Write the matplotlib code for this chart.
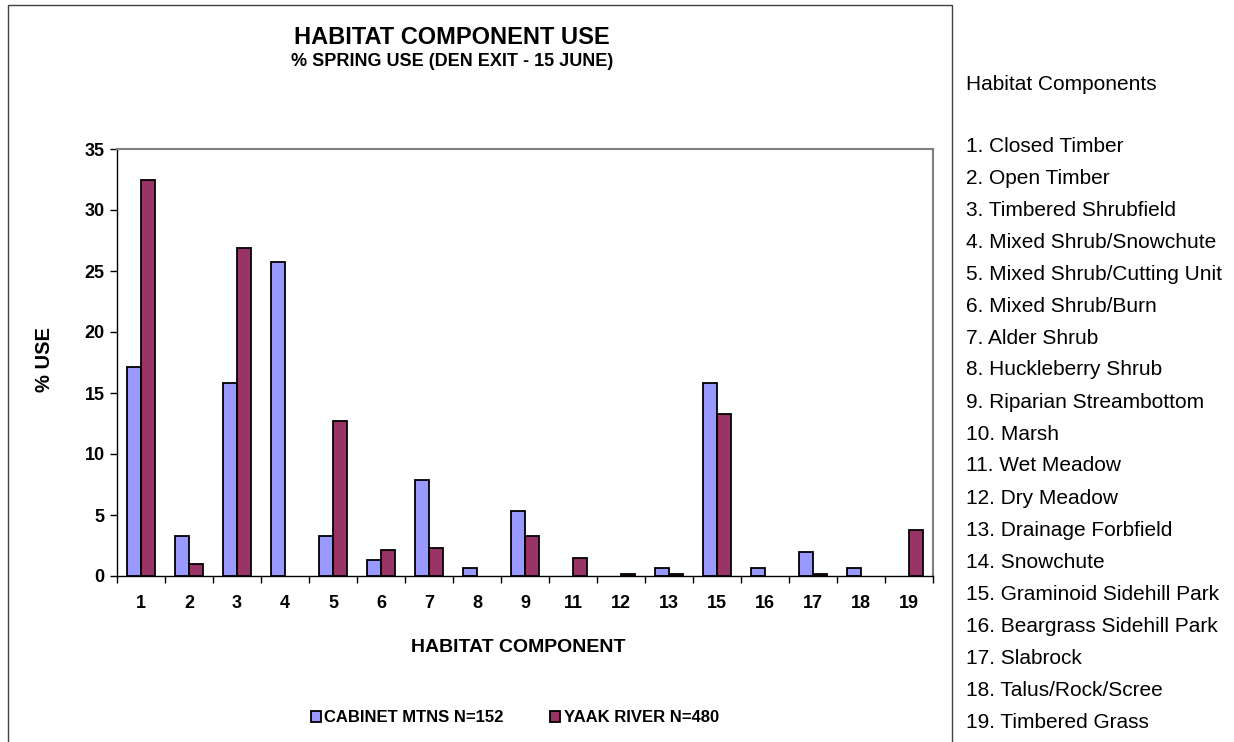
import numpy as np
import matplotlib
matplotlib.use('Agg')
from matplotlib import pyplot as plt
from matplotlib.patches import Rectangle, Patch

plt.rcParams['font.family'] = ['Liberation Sans', 'DejaVu Sans']

categories = ['1', '2', '3', '4', '5', '6', '7', '8', '9', '11', '12', '13', '15', '16', '17', '18', '19']
cabinet = [17.1, 3.3, 15.8, 25.7, 3.3, 1.3, 7.9, 0.66, 5.3, 0, 0, 0.66, 15.8, 0.66, 1.97, 0.66, 0]
yaak = [32.5, 1.0, 26.9, 0, 12.7, 2.1, 2.3, 0, 3.3, 1.45, 0.2, 0.2, 13.3, 0, 0.2, 0, 3.75]
series_names = ['CABINET MTNS N=152', 'YAAK RIVER N=480']
component_names = ['Closed Timber', 'Open Timber', 'Timbered Shrubfield', 'Mixed Shrub/Snowchute',
                   'Mixed Shrub/Cutting Unit', 'Mixed Shrub/Burn', 'Alder Shrub', 'Huckleberry Shrub',
                   'Riparian Streambottom', 'Marsh', 'Wet Meadow', 'Dry Meadow', 'Drainage Forbfield',
                   'Snowchute', 'Graminoid Sidehill Park', 'Beargrass Sidehill Park', 'Slabrock',
                   'Talus/Rock/Scree', 'Timbered Grass']

W, H = 1234, 742
fig = plt.figure(figsize=(W / 100, H / 100), dpi=100)

# outer chart border
fig.patches.append(Rectangle((8 / W, -0.01), 944 / W, (742 - 5) / H + 0.01,
                             transform=fig.transFigure, fill=False,
                             edgecolor='#404040', linewidth=1.0, clip_on=False))

ax = fig.add_axes([117 / W, (H - 576) / H, 816 / W, 427 / H])
x = np.arange(len(categories))
bw = 0.29
c1, c2 = '#9999ff', '#993366'
ax.bar(x - bw / 2, cabinet, bw, color=c1, edgecolor='black',
       linewidth=[1.3 if v > 0 else 0 for v in cabinet])
ax.bar(x + bw / 2, yaak, bw, color=c2, edgecolor='black',
       linewidth=[1.3 if v > 0 else 0 for v in yaak])

ax.set_xlim(-0.5, len(categories) - 0.5)
ax.set_ylim(0, 35)
ax.set_yticks(range(0, 36, 5))
ax.set_xticks(np.arange(-0.5, len(categories), 1))
ax.set_xticklabels([])
ax.set_xticks(x, minor=True)
ax.set_xticklabels(categories, minor=True)
ax.tick_params(axis='x', which='major', direction='out', length=5, width=1)
ax.tick_params(axis='x', which='minor', length=0, pad=14)
ax.tick_params(axis='y', direction='out', length=5, width=1, pad=4)
for lab in ax.get_yticklabels() + ax.get_xticklabels(minor=True):
    lab.set_fontsize(13)
    lab.set_fontweight('bold')
for s in ['top', 'right']:
    ax.spines[s].set_color('#808080')
    ax.spines[s].set_linewidth(1.5)
for s in ['left', 'bottom']:
    ax.spines[s].set_color('black')
    ax.spines[s].set_linewidth(1.0)

fig.text(452 / W, 1 - 38 / H, 'HABITAT COMPONENT USE', ha='center', va='center',
         fontsize=17, fontweight='bold')
fig.text(452 / W, 1 - 62 / H, '% SPRING USE (DEN EXIT - 15 JUNE)', ha='center', va='center',
         fontsize=13, fontweight='bold')
fig.text(45 / W, 1 - 360 / H, '% USE', ha='center', va='center', rotation=90,
         fontsize=14.5, fontweight='bold')
fig.text(518 / W, 1 - 648 / H, 'HABITAT COMPONENT', ha='center', va='center',
         fontsize=14, fontweight='bold')

handles = [Patch(facecolor=c1, edgecolor='black', linewidth=1.3),
           Patch(facecolor=c2, edgecolor='black', linewidth=1.3)]
fig.legend(handles, series_names, loc='center', bbox_to_anchor=(515 / W, 1 - 718 / H),
           ncol=2, frameon=False, handlelength=0.6, handleheight=0.6, handletextpad=0.2,
           columnspacing=2.8, prop={'size': 12, 'weight': 'bold'})

fig.text(966 / W, 1 - 84 / H, 'Habitat Components', ha='left', va='center', fontsize=15)
for i, name in enumerate(component_names):
    fig.text(966 / W, 1 - (146 + 32 * i) / H, f'{i + 1}. {name}', ha='left', va='center',
             fontsize=15)

fig.savefig('out.png', dpi=100)
